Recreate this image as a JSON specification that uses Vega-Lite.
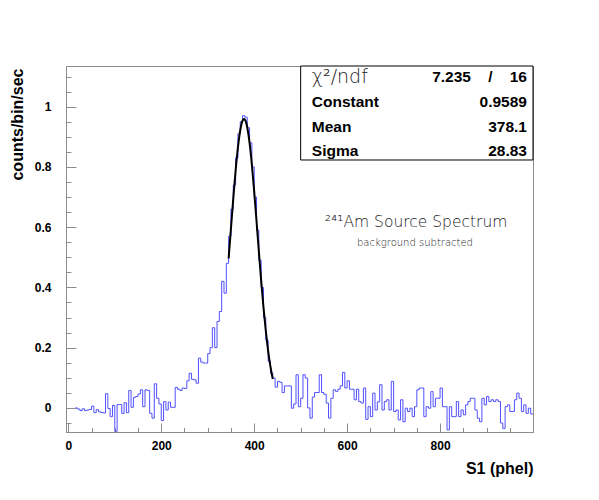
{
  "$schema": "https://vega.github.io/schema/vega-lite/v6.json",
  "width": 467,
  "height": 366,
  "autosize": {"type": "none"},
  "padding": {"left": 66, "top": 66, "right": 66, "bottom": 68},
  "background": "white",
  "config": {
    "view": {"stroke": "#8c8c8c", "strokeWidth": 1},
    "font": "Liberation Sans",
    "axis": {
      "domainColor": "#8c8c8c",
      "tickColor": "#8c8c8c",
      "grid": false,
      "labelFont": "Liberation Sans",
      "labelFontWeight": "bold",
      "labelFontSize": 12,
      "labelColor": "black",
      "labelOverlap": false,
      "labelFlush": false,
      "titleFont": "Liberation Sans",
      "titleFontWeight": "bold",
      "titleFontSize": 16,
      "titleColor": "black"
    }
  },
  "resolve": {"axis": {"x": "independent", "y": "independent"}},
  "datasets": {
    "hist": [
      {"phel":15,"rate":0},{"phel":20,"rate":-0.004},{"phel":25,"rate":-0.009},{"phel":30,"rate":-0.003},{"phel":35,"rate":-0.009},
      {"phel":40,"rate":-0.007},{"phel":45,"rate":-0.005},{"phel":50,"rate":0.006},{"phel":55,"rate":-0.016},{"phel":60,"rate":-0.006},
      {"phel":65,"rate":-0.013},{"phel":70,"rate":-0.015},{"phel":75,"rate":-0.017},{"phel":80,"rate":0.047},{"phel":85,"rate":-0.002},
      {"phel":90,"rate":-0.029},{"phel":95,"rate":0.008},{"phel":100,"rate":-0.078},{"phel":105,"rate":0.011},{"phel":110,"rate":0.011},
      {"phel":115,"rate":-0.018},{"phel":120,"rate":0.017},{"phel":125,"rate":-0.016},{"phel":130,"rate":0.058},{"phel":135,"rate":0.002},
      {"phel":140,"rate":0.035},{"phel":145,"rate":0.038},{"phel":150,"rate":0.046},{"phel":155,"rate":0.06},{"phel":160,"rate":0.004},
      {"phel":165,"rate":0.06},{"phel":170,"rate":0.058},{"phel":175,"rate":-0.018},{"phel":180,"rate":-0.034},{"phel":185,"rate":0.08},
      {"phel":190,"rate":0.032},{"phel":195,"rate":0.013},{"phel":200,"rate":-0.042},{"phel":205,"rate":0.021},{"phel":210,"rate":-0.007},
      {"phel":215,"rate":0.019},{"phel":220,"rate":0.002},{"phel":225,"rate":0.002},{"phel":230,"rate":0.068},{"phel":235,"rate":0.062},
      {"phel":240,"rate":0.058},{"phel":245,"rate":0.066},{"phel":250,"rate":0.064},{"phel":255,"rate":0.09},{"phel":260,"rate":0.115},
      {"phel":265,"rate":0.095},{"phel":270,"rate":0.093},{"phel":275,"rate":0.082},{"phel":280,"rate":0.165},{"phel":285,"rate":0.152},
      {"phel":290,"rate":0.149},{"phel":295,"rate":0.149},{"phel":300,"rate":0.18},{"phel":305,"rate":0.2},{"phel":310,"rate":0.266},
      {"phel":315,"rate":0.2},{"phel":320,"rate":0.287},{"phel":325,"rate":0.32},{"phel":330,"rate":0.42},{"phel":335,"rate":0.381},
      {"phel":340,"rate":0.48},{"phel":345,"rate":0.57},{"phel":350,"rate":0.66},{"phel":355,"rate":0.74},{"phel":360,"rate":0.83},
      {"phel":365,"rate":0.91},{"phel":370,"rate":0.95},{"phel":375,"rate":0.97},{"phel":380,"rate":0.965},{"phel":385,"rate":0.93},
      {"phel":390,"rate":0.88},{"phel":395,"rate":0.8},{"phel":400,"rate":0.7},{"phel":405,"rate":0.59},{"phel":410,"rate":0.49},
      {"phel":415,"rate":0.4},{"phel":420,"rate":0.3},{"phel":425,"rate":0.225},{"phel":430,"rate":0.155},{"phel":435,"rate":0.115},
      {"phel":440,"rate":0.099},{"phel":445,"rate":0.069},{"phel":450,"rate":0.088},{"phel":455,"rate":0.085},{"phel":460,"rate":0.051},
      {"phel":465,"rate":0.073},{"phel":470,"rate":0.073},{"phel":475,"rate":0.073},{"phel":480,"rate":-0.001},{"phel":485,"rate":0.013},
      {"phel":490,"rate":0.11},{"phel":495,"rate":0.004},{"phel":500,"rate":0.032},{"phel":505,"rate":0.11},{"phel":510,"rate":0.099},
      {"phel":515,"rate":0},{"phel":520,"rate":-0.034},{"phel":525,"rate":0.036},{"phel":530,"rate":0.051},{"phel":535,"rate":0.051},
      {"phel":540,"rate":0.11},{"phel":545,"rate":0.051},{"phel":550,"rate":0.045},{"phel":555,"rate":0.016},{"phel":560,"rate":-0.034},
      {"phel":565,"rate":0.032},{"phel":570,"rate":0.06},{"phel":575,"rate":0.055},{"phel":580,"rate":0.062},{"phel":585,"rate":0.073},
      {"phel":590,"rate":0.118},{"phel":595,"rate":0.066},{"phel":600,"rate":0.09},{"phel":605,"rate":0.062},{"phel":610,"rate":0.062},
      {"phel":615,"rate":0.027},{"phel":620,"rate":0.062},{"phel":625,"rate":0.021},{"phel":630,"rate":0.016},{"phel":635,"rate":0.066},
      {"phel":640,"rate":-0.038},{"phel":645,"rate":0.004},{"phel":650,"rate":-0.029},{"phel":655,"rate":0.049},{"phel":660,"rate":-0.007},
      {"phel":665,"rate":0.02},{"phel":670,"rate":0.077},{"phel":675,"rate":-0.007},{"phel":680,"rate":0.021},{"phel":685,"rate":0.027},
      {"phel":690,"rate":-0.007},{"phel":695,"rate":0.088},{"phel":700,"rate":-0.012},{"phel":705,"rate":-0.007},{"phel":710,"rate":-0.04},
      {"phel":715,"rate":0.027},{"phel":720,"rate":-0.046},{"phel":725,"rate":-0.001},{"phel":730,"rate":-0.012},{"phel":735,"rate":-0.001},
      {"phel":740,"rate":-0.029},{"phel":745,"rate":0.004},{"phel":750,"rate":0.06},{"phel":755,"rate":0.066},{"phel":760,"rate":0.066},
      {"phel":765,"rate":-0.029},{"phel":770,"rate":0.004},{"phel":775,"rate":-0.001},{"phel":780,"rate":0.054},{"phel":785,"rate":0.004},
      {"phel":790,"rate":0.032},{"phel":795,"rate":0.032},{"phel":800,"rate":0.066},{"phel":805,"rate":0.004},{"phel":810,"rate":0.004},
      {"phel":815,"rate":-0.073},{"phel":820,"rate":0.004},{"phel":825,"rate":-0.029},{"phel":830,"rate":-0.029},{"phel":835,"rate":0.021},
      {"phel":840,"rate":-0.029},{"phel":845,"rate":-0.007},{"phel":850,"rate":-0.023},{"phel":855,"rate":0.01},{"phel":860,"rate":0.021},
      {"phel":865,"rate":0.032},{"phel":870,"rate":0.032},{"phel":875,"rate":-0.007},{"phel":880,"rate":-0.034},{"phel":885,"rate":-0.046},
      {"phel":890,"rate":0.032},{"phel":895,"rate":0.01},{"phel":900,"rate":0.038},{"phel":905,"rate":0.021},{"phel":910,"rate":0.027},
      {"phel":915,"rate":0.021},{"phel":920,"rate":0.027},{"phel":925,"rate":0.021},{"phel":930,"rate":-0.05},{"phel":935,"rate":-0.068},
      {"phel":940,"rate":0.004},{"phel":945,"rate":0.01},{"phel":950,"rate":-0.012},{"phel":955,"rate":-0.012},{"phel":960,"rate":0.027},
      {"phel":965,"rate":0.049},{"phel":970,"rate":0.032},{"phel":975,"rate":-0.012},{"phel":980,"rate":0.01},{"phel":985,"rate":-0.018},
      {"phel":990,"rate":-0.001},{"phel":995,"rate":-0.02},{"phel":1000,"rate":-0.02}
    ],
    "fit": [
      {"phel":345,"rate":0.4961},{"phel":350,"rate":0.5963},{"phel":355,"rate":0.6956},{"phel":360,"rate":0.7874},
      {"phel":365,"rate":0.8649},{"phel":370,"rate":0.9218},{"phel":375,"rate":0.9534},{"phel":378.1,"rate":0.9589},
      {"phel":380,"rate":0.9568},{"phel":385,"rate":0.9318},{"phel":390,"rate":0.8806},{"phel":395,"rate":0.8075},
      {"phel":400,"rate":0.7186},{"phel":405,"rate":0.6205},{"phel":410,"rate":0.5199},{"phel":415,"rate":0.4227},
      {"phel":420,"rate":0.3335},{"phel":425,"rate":0.2553},{"phel":430,"rate":0.1897},{"phel":435,"rate":0.1368},
      {"phel":440,"rate":0.0957}
    ]
  },
  "layer": [
    {
      "data": {"name": "hist"},
      "mark": {"type": "line", "interpolate": "step-after", "color": "#5050ff", "strokeWidth": 1, "clip": true},
      "encoding": {
        "x": {
          "field": "phel", "type": "quantitative",
          "scale": {"domain": [-5, 1000], "nice": false, "zero": false},
          "axis": {
            "orient": "bottom",
            "title": "S1 (phel)",
            "values": [0, 200, 400, 600, 800],
            "format": "d",
            "tickSize": -9,
            "labelPadding": 17,
            "titleAnchor": "end",
            "titleAlign": "right",
            "titleBaseline": "alphabetic",
            "titleX": 467,
            "titleY": 41
          }
        },
        "y": {
          "field": "rate", "type": "quantitative",
          "scale": {"domain": [-0.08, 1.135], "nice": false, "zero": false},
          "axis": {
            "orient": "left",
            "title": "counts/bin/sec",
            "values": [0, 0.2, 0.4, 0.6, 0.8, 1],
            "format": "~g",
            "tickSize": -10,
            "labelPadding": 25,
            "titleAngle": -90,
            "titleAlign": "right",
            "titleBaseline": "alphabetic",
            "titleX": -44,
            "titleY": 2
          }
        }
      }
    },
    {
      "data": {"name": "fit"},
      "mark": {"type": "line", "color": "black", "strokeWidth": 2, "interpolate": "monotone"},
      "encoding": {
        "x": {
          "field": "phel", "type": "quantitative",
          "axis": {
            "orient": "bottom",
            "title": null,
            "labels": false,
            "domain": false,
            "values": [50,100,150,250,300,350,450,500,550,650,700,750,850,900,950],
            "tickSize": -4.5
          }
        },
        "y": {
          "field": "rate", "type": "quantitative",
          "axis": {
            "orient": "left",
            "title": null,
            "labels": false,
            "domain": false,
            "values": [-0.05,0.05,0.1,0.15,0.25,0.3,0.35,0.45,0.5,0.55,0.65,0.7,0.75,0.85,0.9,0.95,1.05,1.1],
            "tickSize": -5
          }
        }
      }
    },
    {
      "data": {"values": [{}]},
      "mark": {"type": "rect", "fill": "white", "stroke": "black", "strokeWidth": 1},
      "encoding": {
        "x": {"datum": 500, "axis": null}, "x2": {"datum": 1000},
        "y": {"datum": 0.823, "axis": null}, "y2": {"datum": 1.135}
      }
    },
    {
      "data": {"values": [{}]},
      "mark": {"type": "text", "align": "left", "baseline": "middle", "font": "DejaVu Sans", "fontWeight": 200, "fontSize": 19, "color": "#222222"},
      "encoding": {"x": {"datum": 524, "axis": null}, "y": {"datum": 1.099, "axis": null}, "text": {"value": "χ²/ndf"}}
    },
    {
      "data": {"values": [{}]},
      "mark": {"type": "text", "align": "right", "baseline": "middle", "font": "Liberation Sans", "fontWeight": "bold", "fontSize": 15.5, "color": "black"},
      "encoding": {"x": {"datum": 987, "axis": null}, "y": {"datum": 1.099, "axis": null}, "text": {"value": "7.235\u00a0\u00a0\u00a0\u00a0/\u00a0\u00a0\u00a0\u00a016"}}
    },
    {
      "data": {"values": [{}]},
      "mark": {"type": "text", "align": "left", "baseline": "middle", "font": "Liberation Sans", "fontWeight": "bold", "fontSize": 15.5, "color": "black"},
      "encoding": {"x": {"datum": 524, "axis": null}, "y": {"datum": 1.016, "axis": null}, "text": {"value": "Constant"}}
    },
    {
      "data": {"values": [{}]},
      "mark": {"type": "text", "align": "right", "baseline": "middle", "font": "Liberation Sans", "fontWeight": "bold", "fontSize": 15.5, "color": "black"},
      "encoding": {"x": {"datum": 987, "axis": null}, "y": {"datum": 1.016, "axis": null}, "text": {"value": "0.9589"}}
    },
    {
      "data": {"values": [{}]},
      "mark": {"type": "text", "align": "left", "baseline": "middle", "font": "Liberation Sans", "fontWeight": "bold", "fontSize": 15.5, "color": "black"},
      "encoding": {"x": {"datum": 524, "axis": null}, "y": {"datum": 0.933, "axis": null}, "text": {"value": "Mean"}}
    },
    {
      "data": {"values": [{}]},
      "mark": {"type": "text", "align": "right", "baseline": "middle", "font": "Liberation Sans", "fontWeight": "bold", "fontSize": 15.5, "color": "black"},
      "encoding": {"x": {"datum": 987, "axis": null}, "y": {"datum": 0.933, "axis": null}, "text": {"value": "378.1"}}
    },
    {
      "data": {"values": [{}]},
      "mark": {"type": "text", "align": "left", "baseline": "middle", "font": "Liberation Sans", "fontWeight": "bold", "fontSize": 15.5, "color": "black"},
      "encoding": {"x": {"datum": 524, "axis": null}, "y": {"datum": 0.853, "axis": null}, "text": {"value": "Sigma"}}
    },
    {
      "data": {"values": [{}]},
      "mark": {"type": "text", "align": "right", "baseline": "middle", "font": "Liberation Sans", "fontWeight": "bold", "fontSize": 15.5, "color": "black"},
      "encoding": {"x": {"datum": 987, "axis": null}, "y": {"datum": 0.853, "axis": null}, "text": {"value": "28.83"}}
    },
    {
      "data": {"values": [{}]},
      "mark": {"type": "text", "align": "left", "baseline": "middle", "font": "DejaVu Sans", "fontWeight": 200, "fontSize": 15.5, "color": "#222222"},
      "encoding": {"x": {"datum": 552, "axis": null}, "y": {"datum": 0.6175, "axis": null}, "text": {"value": "²⁴¹Am Source Spectrum"}}
    },
    {
      "data": {"values": [{}]},
      "mark": {"type": "text", "align": "center", "baseline": "middle", "font": "DejaVu Sans", "fontWeight": 200, "fontSize": 10, "color": "#222222"},
      "encoding": {"x": {"datum": 746, "axis": null}, "y": {"datum": 0.548, "axis": null}, "text": {"value": "background subtracted"}}
    }
  ]
}
